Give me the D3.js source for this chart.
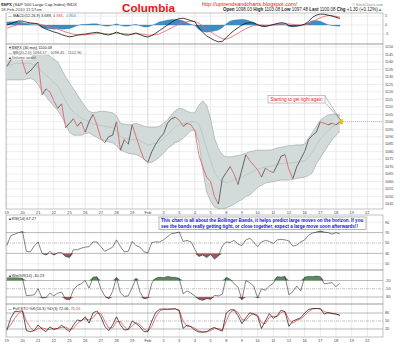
<!DOCTYPE html>
<html><head><meta charset="utf-8">
<script src="https://cdn.jsdelivr.net/npm/d3@7"></script>
<style>
body{margin:0;background:#fff;}
svg{display:block;font-family:"Liberation Sans",Arial,sans-serif;}
</style></head><body>
<svg id="c" width="400" height="345"></svg>
<script>
// ---------- DATA ----------
const dayLabels = ["19","20","21","22","25","26","27","28","29","Feb","2","3","4","5","8","9","10","11","12","16","17","18","19","22"];
const samplesPerDay = 4;
const closes = [1137,1141,1145,1150, 1140,1132,1134,1137, 1140,1118,1122,1120, 1114,1109,1112,1096,
 1099,1102,1097,1100, 1093,1100,1105,1098, 1089,1086,1090,1091, 1100,1081,1088,1085,
 1098,1090,1082,1075, 1073,1080,1085,1089, 1092,1099,1102,1103, 1101,1097,1099,1098,
 1094,1078,1070,1063, 1060,1050,1045,1062, 1066,1070,1065,1058, 1068,1078,1074,1071,
 1068,1063,1069,1067, 1066,1071,1077,1078, 1068,1062,1070,1075, 1080,1088,1091,1093,
 1100,1099,1098,1099, 1098,1100];
const bbUpper = [1147,1148.5,1149.5,1150, 1150.5,1150,1149,1148.5, 1148,1147,1145,1144, 1142,1140,1135,1130,
 1126,1122,1118,1114, 1110,1107,1106,1106.5, 1107,1107,1106.5,1106, 1104,1099,1098.5,1098,
 1098,1099,1098,1097, 1096.5,1096.5,1096.5,1097, 1099,1101,1104.5,1107.5, 1109,1108.5,1107,1106,
 1106,1111,1114,1111, 1102,1089,1082,1078, 1076.5,1076.5,1077,1077.5, 1078,1079,1080,1080.5,
 1081,1081,1081,1081, 1081.5,1082.5,1083,1083.5, 1084,1084,1084.5,1084.5, 1085,1089,1093,1097,
 1101,1103,1104.5,1105, 1105,1104.5];
const bbMiddle = [1137.5,1138,1139,1139, 1139,1139,1139,1138, 1136.5,1133.5,1131,1129, 1126,1124,1119,1114,
 1109.5,1106.5,1104.5,1102.5, 1101,1100,1098.5,1098, 1097.5,1097,1096.5,1096, 1094,1090,1089,1088.5,
 1088,1088.5,1087.5,1086, 1084.5,1085,1085.5,1086.5, 1089,1091.5,1094,1096.5, 1098,1099,1099,1100,
 1100,1098.5,1091,1082, 1074.5,1066,1062,1060, 1059.5,1060,1061,1062, 1063,1064.5,1065.5,1067,
 1068.5,1069,1070,1070, 1070.5,1071.5,1072,1072, 1072.5,1072.5,1073,1073.5, 1074,1076.5,1079.5,1084.5,
 1088.5,1091.5,1094,1096.5, 1098,1098.5];
const bbLower = [1128,1128,1128,1128, 1128,1128.5,1129,1128, 1125,1120,1117,1113.5, 1110.5,1107.5,1103.5,1098.5,
 1093,1091,1091,1091, 1092,1092.5,1091,1089.5, 1088,1087.5,1086.5,1086, 1084,1081,1080,1079,
 1078.5,1078,1077,1075, 1072.5,1073,1074.5,1076.5, 1079,1082,1084,1086, 1087,1089,1091.5,1094,
 1094.5,1086,1068,1053, 1047,1043,1042,1041.5, 1042.5,1043.5,1045,1046.5, 1048,1050,1051,1053.5,
 1056,1057.5,1059,1059.5, 1060,1060.5,1061,1061, 1061,1061.5,1062,1062.5, 1063,1064,1066,1072,
 1076,1080,1084,1088, 1091,1093.5];
const macdLine = [0.0,0.8,1.6,2.3, 2.2,1.6,1.2,1.0, 0.6,-1.2,-2.2,-3.0, -3.8,-4.4,-5.3,-6.0,
 -6.5,-6.2,-5.6,-5.2, -5.0,-4.6,-4.3,-4.0, -4.5,-5.2,-5.5,-4.8, -3.9,-4.7,-5.4,-5.6,
 -5.0,-4.4,-5.3,-6.2, -6.6,-5.8,-4.5,-3.0, -1.5,0.0,1.5,2.8, 3.6,3.8,3.2,2.5,
 1.8,-1.5,-4.0,-6.0, -7.3,-8.5,-9.3,-9.0, -7.0,-4.8,-3.0,-1.5, 0.0,1.0,1.3,1.2,
 0.2,-0.6,-0.8,-0.3, 0.3,0.9,1.3,1.0, -0.2,-0.6,-0.5,-0.2, 0.5,2.0,4.3,5.5,
 6.1,6.0,5.5,5.0, 4.3,3.7];
const macdSignal = [-1.7,-1.0,-0.3,0.4, 0.8,0.9,0.9,0.8, 0.6,0.2,-0.3,-0.9, -1.5,-2.3,-3.0,-3.8,
 -4.5,-5.0,-5.3,-5.5, -5.4,-5.2,-5.0,-4.7, -4.6,-4.7,-4.9,-4.8, -4.6,-4.6,-4.8,-5.0,
 -5.0,-4.8,-4.9,-5.2, -5.5,-5.6,-5.3,-4.8, -3.8,-2.8,-1.6,-0.5, 0.6,1.4,1.9,2.1,
 2.0,1.0,-0.5,-2.0, -3.6,-5.2,-6.5,-7.5, -7.8,-7.0,-5.8,-4.5, -3.2,-2.0,-1.0,-0.3,
 0.0,0.0,-0.1,-0.1, 0.0,0.2,0.5,0.7, 0.6,0.4,0.2,0.1, 0.1,0.6,1.8,3.0,
 4.0,4.8,5.3,5.2, 4.8,4.4];
const macdHist = [1.7,1.8,1.9,1.9, 1.4,0.7,0.3,0.2, 0.0,-1.4,-1.9,-2.1, -2.3,-2.1,-2.3,-2.2,
 -2.0,-1.2,-0.3,0.3, 0.4,0.6,0.7,0.7, 0.1,-0.5,-0.6,0.0, 0.7,-0.1,-0.6,-0.6,
 0.0,0.4,-0.4,-1.0, -1.1,-0.2,0.8,1.8, 2.3,2.8,3.1,3.3, 3.0,2.4,1.3,0.4,
 -0.2,-2.5,-3.5,-4.0, -3.7,-3.3,-2.8,-1.5, 0.8,2.2,2.8,3.0, 3.2,3.0,2.3,1.5,
 0.2,-0.6,-0.7,-0.2, 0.3,0.7,0.8,0.3, -0.8,-1.0,-0.7,-0.3, 0.4,1.4,2.5,2.5,
 2.1,1.2,0.2,-0.2, -0.5,-0.7];
const rsi = [45,64,67,70, 72,34,33,44, 52,30,27,34, 27,31,32,24,
 22,37,37,40, 42,43,52,52, 43,34,38,42, 56,43,33,34,
 53,45,42,33, 31,51,52,52, 56,62,68,69, 71,53,55,52,
 38,24,27,22, 28,19,25,44, 52,51,55,48, 45,56,59,52,
 43,52,55,53, 49,56,57,56, 54,44,46,52, 56,65,69,71,
 73,71,70,67, 70,67.27];
const willR = [-10,-8,-8,-9, -12,-75,-74,-72, -50,-84,-82,-66, -76,-66,-62,-88,
 -90,-55,-38,-32, -20,-48,-8,-6, -50,-76,-86,-60, -8,-65,-78,-76,
 -45,-12,-62,-86, -84,-30,-12,-8, -10,-5,-8,-9, -12,-68,-58,-66,
 -76,-88,-92,-86, -88,-74,-76,-70, -8,-16,-32,-44, -90,-20,-28,-40,
 -84,-50,-56,-40, -30,-6,-8,-5, -72,-60,-40,-58, -8,-5,-6,-4,
 -6,-32,-30,-28, -42,-30.23];
const stoK = [15,60,86,86, 90,14,10,14, 35,20,10,28, 18,22,34,22,
 10,35,54,50, 66,42,80,88, 66,30,14,35, 66,35,16,18,
 50,40,28,10, 10,50,82,94, 95,94,95,96, 88,22,35,28,
 16,9,8,10, 20,26,18,12, 80,92,92,70, 40,62,81,76,
 68,22,50,78, 60,70,91,84, 30,50,56,62, 80,93,97,97,
 96,76,82,78, 76,72.06];
const stoD = [20,35,60,78, 88,50,25,12, 22,24,20,18, 22,22,26,28,
 18,22,40,52, 58,54,62,80, 78,50,24,24, 48,48,28,18,
 32,44,36,20, 12,30,65,88, 94,94,95,95, 92,50,30,30,
 22,13,9,9, 14,22,22,16, 50,82,92,82, 56,52,70,78,
 72,44,40,64, 68,66,82,86, 55,42,52,58, 70,86,95,97,
 96,86,80,79, 77,70.16];
const priceTicks = [1150,1145,1140,1135,1130,1125,1120,1115,1110,1105,1100,1095,1090,1085,1080,1075,1070,1065,1060,1055,1050,1045];
const macdTicks = [5,0,-5];
const rsiTicks = [90,70,50,30,10];
const wrTicks = [-20,-50,-80];
const stoTicks = [80,50,20];
const lastPrice = 1100.08;

// ---------- LAYOUT ----------
const svg = d3.select("#c");
const X0 = 6, X1 = 383;
const x = d3.scaleLinear().domain([-0.05, 24]).range([X0, X1]);
const tOf = i => i / samplesPerDay;
const P = {
  macd:  {top:13,  bottom:44,  y:d3.scaleLinear().domain([-10.5,6.7]).range([44,13])},
  price: {top:44,  bottom:209, y:d3.scaleLinear().domain([1041.66,1152]).range([209,44])},
  rsi:   {top:215, bottom:270, y:d3.scaleLinear().domain([0,100]).range([269,217])},
  wr:    {top:270, bottom:304, y:d3.scaleLinear().domain([-100,0]).range([302.5,275])},
  sto:   {top:304, bottom:337, y:d3.scaleLinear().domain([0,100]).range([334.3,307.7])}
};
const defs = svg.append("defs");
Object.entries(P).forEach(([k,p])=>{
  defs.append("clipPath").attr("id","clip-"+k).append("rect")
    .attr("x",X0).attr("y",p.top).attr("width",X1-X0).attr("height",p.bottom-p.top);
  p.g = svg.append("g").attr("clip-path","url(#clip-"+k+")");
});

// vertical grid
Object.values(P).forEach(p=>{
  p.g.selectAll("line.vg").data(dayLabels).join("line")
    .attr("x1",(d,i)=>x(i)).attr("x2",(d,i)=>x(i))
    .attr("y1",p.top).attr("y2",p.bottom)
    .attr("stroke",(d,i)=> d==="Feb" ? "#b8b8b8" : "#dcdcdc").attr("stroke-width",0.6);
});
function hline(p, v, color, dash, w){
  p.g.append("line").attr("x1",X0).attr("x2",X1).attr("y1",p.y(v)).attr("y2",p.y(v))
    .attr("stroke",color).attr("stroke-width",w||0.6).attr("stroke-dasharray",dash||null);
}
priceTicks.forEach(v=>hline(P.price,v,"#e2e2e2"));
macdTicks.forEach(v=>hline(P.macd,v,"#e2e2e2"));
[90,10].forEach(v=>hline(P.rsi,v,"#e2e2e2"));
hline(P.rsi,70,"#8a8a8a"); hline(P.rsi,30,"#8a8a8a"); hline(P.rsi,50,"#a0a0a0","3,1,1,1");
hline(P.wr,-20,"#8a8a8a"); hline(P.wr,-80,"#8a8a8a"); hline(P.wr,-50,"#a0a0a0","3,1,1,1");
hline(P.sto,80,"#8a8a8a"); hline(P.sto,20,"#8a8a8a"); hline(P.sto,50,"#a0a0a0","3,1,1,1");

const idx = d3.range(closes.length);

// ---------- MACD ----------
const my = P.macd.y;
P.macd.g.append("path").datum(idx)
  .attr("d",d3.area().x(i=>x(tOf(i))).y0(my(0)).y1(i=>my(macdHist[i])))
  .attr("fill","#3d8cc4").attr("stroke","#2f78ad").attr("stroke-width",0.3);
P.macd.g.append("path").datum(idx)
  .attr("d",d3.line().x(i=>x(tOf(i))).y(i=>my(macdSignal[i])))
  .attr("fill","none").attr("stroke","#f06060").attr("stroke-width",0.8);
P.macd.g.append("path").datum(idx)
  .attr("d",d3.line().x(i=>x(tOf(i))).y(i=>my(macdLine[i])))
  .attr("fill","none").attr("stroke","#111").attr("stroke-width",0.8);

// ---------- PRICE ----------
const py = P.price.y;
P.price.g.append("path").datum(idx)
  .attr("d",d3.area().x(i=>x(tOf(i))).y0(i=>py(bbLower[i])).y1(i=>py(bbUpper[i])))
  .attr("fill","#d3dada");
[bbUpper,bbLower].forEach(arr=>{
  P.price.g.append("path").datum(idx)
    .attr("d",d3.line().x(i=>x(tOf(i))).y(i=>py(arr[i])))
    .attr("fill","none").attr("stroke","#97a1a1").attr("stroke-width",0.6);
});
P.price.g.append("path").datum(idx)
  .attr("d",d3.line().x(i=>x(tOf(i))).y(i=>py(bbMiddle[i])))
  .attr("fill","none").attr("stroke","#aab2b2").attr("stroke-width",0.5);
P.price.g.selectAll("line.bar").data(idx.slice(1)).join("line")
  .attr("x1",i=>x(tOf(i-1))).attr("x2",i=>x(tOf(i)))
  .attr("y1",i=>py(closes[i-1])).attr("y2",i=>py(closes[i]))
  .attr("stroke",i=> closes[i]>=closes[i-1] ? "#333" : "#e04848")
  .attr("stroke-width",0.7);
const lastI = closes.length-1;
const lx = x(tOf(lastI)), ly = py(closes[lastI]);
P.price.g.append("line").attr("x1",lx+3).attr("x2",X1).attr("y1",py(lastPrice)).attr("y2",py(lastPrice))
  .attr("stroke","#8888ee").attr("stroke-width",0.6).attr("stroke-dasharray","1,1");
P.price.g.append("rect").attr("x",lx).attr("y",ly-2.5).attr("width",3).attr("height",5).attr("fill","#f2c200");

// ---------- RSI ----------
const ry = P.rsi.y;
P.rsi.g.append("path").datum(idx)
  .attr("d",d3.area().x(i=>x(tOf(i))).y0(ry(70)).y1(i=>ry(Math.max(70,rsi[i]))))
  .attr("fill","#5d8a5d");
P.rsi.g.append("path").datum(idx)
  .attr("d",d3.area().x(i=>x(tOf(i))).y0(ry(30)).y1(i=>ry(Math.min(30,rsi[i]))))
  .attr("fill","#a05858");
P.rsi.g.append("path").datum(idx)
  .attr("d",d3.line().x(i=>x(tOf(i))).y(i=>ry(rsi[i])))
  .attr("fill","none").attr("stroke","#333").attr("stroke-width",0.6);

// ---------- Williams %R ----------
const wy = P.wr.y;
P.wr.g.append("path").datum(idx)
  .attr("d",d3.area().x(i=>x(tOf(i))).y0(wy(-20)).y1(i=>wy(Math.max(-20,willR[i]))))
  .attr("fill","#5d8a5d");
P.wr.g.append("path").datum(idx)
  .attr("d",d3.area().x(i=>x(tOf(i))).y0(wy(-80)).y1(i=>wy(Math.min(-80,willR[i]))))
  .attr("fill","#a05858");
P.wr.g.append("path").datum(idx)
  .attr("d",d3.line().x(i=>x(tOf(i))).y(i=>wy(willR[i])))
  .attr("fill","none").attr("stroke","#333").attr("stroke-width",0.6);

// ---------- STO ----------
const sy = P.sto.y;
P.sto.g.append("path").datum(idx)
  .attr("d",d3.line().x(i=>x(tOf(i))).y(i=>sy(stoD[i])))
  .attr("fill","none").attr("stroke","#f06060").attr("stroke-width",0.9);
P.sto.g.append("path").datum(idx)
  .attr("d",d3.line().x(i=>x(tOf(i))).y(i=>sy(stoK[i])))
  .attr("fill","none").attr("stroke","#111").attr("stroke-width",0.7);

// panel frames
Object.values(P).forEach(p=>{
  svg.append("rect").attr("x",X0).attr("y",p.top).attr("width",X1-X0).attr("height",p.bottom-p.top)
    .attr("fill","none").attr("stroke","#999").attr("stroke-width",0.6);
});

// ---------- AXES TEXT ----------
function rlabels(p, ticks){
  svg.selectAll(null).data(ticks).join("text")
    .attr("x",385).attr("y",d=>p.y(d)+1.3).attr("font-size",3.8).attr("fill","#444").text(d=>d);
}
rlabels(P.macd,macdTicks); rlabels(P.price,priceTicks); rlabels(P.rsi,rsiTicks);
rlabels(P.wr,wrTicks); rlabels(P.sto,stoTicks);
[213.5,342].forEach(yy=>{
  svg.selectAll(null).data(dayLabels).join("text")
    .attr("x",(d,i)=>x(i)).attr("y",yy).attr("text-anchor","middle")
    .attr("font-size",4).attr("fill","#444").text(d=>d);
});

// ---------- TITLES / LEGENDS ----------
// parts laid out one after another; if len given, font size is tuned so the run spans len px
function txt(xp,yp,size,parts,len,anchor){
  const g = svg.append("g");
  const els = parts.map(pt=> g.append("text").attr("y",yp).attr("font-size",size)
      .attr("fill",pt.c||"#222").attr("font-weight",pt.b?"bold":null)
      .style("white-space","pre").text(pt.t));
  let total = d3.sum(els, e=>e.node().getComputedTextLength());
  let fs = size;
  if(len && total>0){ fs = size*len/total; els.forEach(e=>e.attr("font-size",fs));
    total = d3.sum(els, e=>e.node().getComputedTextLength()); }
  let start = anchor==="end" ? xp-total : anchor==="middle" ? xp-total/2 : xp;
  els.forEach(e=>{ e.attr("x",start); start += e.node().getComputedTextLength(); });
  g.fs = fs;
  return g;
}
function legendBg(xp,yp,w){
  svg.append("rect").attr("x",xp).attr("y",yp-3.6).attr("width",w).attr("height",4.6).attr("fill","#fff").attr("opacity",0.9);
}
txt(1,6,4.6,[{t:"$SPX",b:1},{t:" (S&P 500 Large Cap Index) INDX"}],76);
txt(1,11,4.2,[{t:"18-Feb-2010 11:57am",c:"#444"}],41);
txt(122,11.5,11.5,[{t:"Columbia",c:"#ee1111",b:1}],53);
txt(202,5.5,4.4,[{t:"http://uptrendsandcharts.blogspot.com/",c:"#ee1111"}],95);
txt(383,5.5,4.0,[{t:"© StockCharts.com",c:"#888"}],31,"end");
txt(223,11,4.2,[{t:"Open",b:1},{t:" 1098.03 "},{t:"High",b:1},{t:" 1103.08 "},{t:"Low",b:1},{t:" 1097.48 "},
  {t:"Last",b:1},{t:" 1100.08 "},{t:"Chg",b:1},{t:" +1.30 (+0.12%)"},{t:"▲",c:"#2a9a2a"}],159);

const LF = 3.9;
legendBg(7,17,62);
txt(8,17,LF,[{t:"— MACD(12,26,9) 3.689, "},{t:"4.394",c:"#ee3333"},{t:", "},{t:"-0.904",c:"#3d8cc4"}]);

legendBg(7,48.5,53); legendBg(7,53.5,73); legendBg(7,58.5,25);
txt(8,48.5,LF,[{t:"▼",c:"#333"},{t:"$SPX (30 min) 1100.09"}]);
txt(8,53.5,LF,[{t:"— BB(20,2.0) 1094.17 - 1098.45 - 1102.90",c:"#555"}]);
txt(8,58.5,LF,[{t:"▲",c:"#333"},{t:"Volume undef",c:"#555"}]);

legendBg(7,220,35);
txt(8,220,LF,[{t:"▲",c:"#333"},{t:"RSI(14) 67.27"}]);
legendBg(7,276.5,44);
txt(8,276.5,LF,[{t:"▲",c:"#333"},{t:"Wm%R(14) -30.23"}]);
legendBg(7,309.5,95);
txt(8,309.5,LF,[{t:"— Full STO %K(14,3) %D(3) 72.06, "},{t:"70.16",c:"#ee3333"}]);

// callout on price
svg.append("line").attr("x1",325).attr("y1",96).attr("x2",lx+0.5).attr("y2",ly-2).attr("stroke","#777").attr("stroke-width",0.5);
svg.append("line").attr("x1",325).attr("y1",102.5).attr("x2",lx+0.5).attr("y2",ly-2).attr("stroke","#777").attr("stroke-width",0.5);
svg.append("rect").attr("x",268).attr("y",95.5).attr("width",57).attr("height",7.5)
  .attr("fill","#fff").attr("stroke","#888").attr("stroke-width",0.5);
txt(296.5,100.8,4.2,[{t:"Starting to get tight again",c:"#ee1111"}],52,"middle");

// text box on RSI
svg.append("rect").attr("x",159).attr("y",217).attr("width",207).attr("height",12.5)
  .attr("fill","#fff").attr("stroke","#888").attr("stroke-width",0.6);
const l1 = txt(161,222,4.3,[{t:"This chart is all about the Bollinger Bands, it helps predict large moves on the horizon. If you",c:"#1010dd",b:1}],203);
txt(161,227.5,l1.fs,[{t:"see the bands really getting tight, or close together, expect a large move soon afterwards!!",c:"#1010dd",b:1}]);
</script>
</body></html>
